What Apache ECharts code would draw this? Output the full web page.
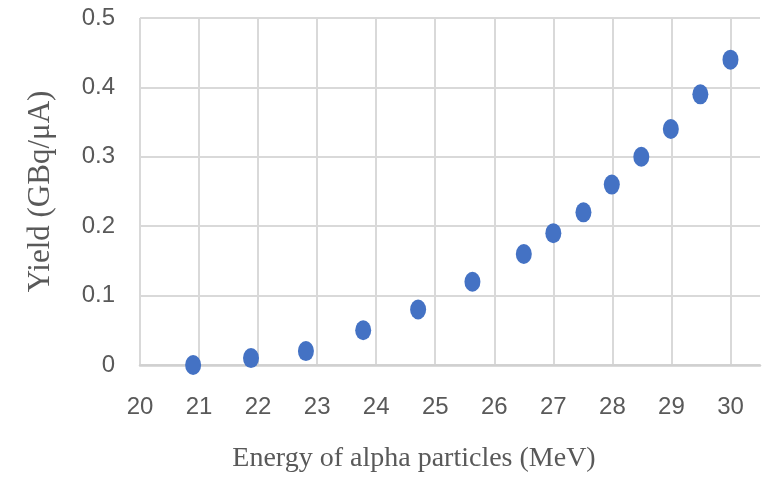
<!DOCTYPE html>
<html>
<head>
<meta charset="utf-8">
<script src="https://cdn.jsdelivr.net/npm/echarts@6/dist/echarts.min.js"></script>
<style>
  html, body { margin: 0; padding: 0; background: #fff; }
  #chart { width: 768px; height: 478px; }
</style>
</head>
<body>
<div id="chart"></div>
<script>
// Yield vs. alpha-particle energy
const energy = [20.9, 21.88, 22.81, 23.78, 24.71, 25.63, 26.5, 27.0, 27.51, 27.99, 28.49, 28.99, 29.49, 30.0];
const yieldValues = [0.0, 0.01, 0.02, 0.05, 0.08, 0.12, 0.16, 0.19, 0.22, 0.26, 0.30, 0.34, 0.39, 0.44];
const xTitle = 'Energy of alpha particles (MeV)';
const yTitle = 'Yield (GBq/μA)';

const gridColor = '#d9d9d9';
const labelStyle = { color: '#595959', fontFamily: 'Liberation Sans', fontSize: 24 };

const chart = echarts.init(document.getElementById('chart'));
chart.setOption({
  animation: false,
  grid: { left: 140, top: 18, right: 8, bottom: 112, containLabel: false },
  xAxis: {
    type: 'value',
    min: 20,
    max: 30.5,
    interval: 1,
    name: xTitle,
    nameLocation: 'middle',
    nameGap: 80,
    nameTextStyle: { color: '#595959', fontFamily: 'Liberation Serif', fontSize: 28, padding: [0, 72, 0, 0] },
    axisLine: { show: true, lineStyle: { color: '#d0d0d0', width: 2.5 } },
    axisTick: { show: false },
    axisLabel: Object.assign({ margin: 30, showMaxLabel: false }, labelStyle),
    splitLine: { show: true, showMinLine: true, showMaxLine: false, lineStyle: { color: gridColor, width: 2 } }
  },
  yAxis: {
    type: 'value',
    min: 0,
    max: 0.5,
    interval: 0.1,
    name: yTitle,
    nameLocation: 'middle',
    nameGap: 84,
    nameTextStyle: { color: '#595959', fontFamily: 'Liberation Serif', fontSize: 31 },
    axisLine: { show: false },
    axisTick: { show: false },
    axisLabel: Object.assign({ margin: 25, formatter: v => String(+v.toFixed(1)) }, labelStyle),
    splitLine: { show: true, lineStyle: { color: gridColor, width: 2 } }
  },
  series: [{
    type: 'scatter',
    data: energy.map((e, i) => [e, yieldValues[i]]),
    symbol: 'circle',
    symbolSize: [16, 20],
    itemStyle: { color: '#4472c4', opacity: 1 }
  }]
});
</script>
</body>
</html>
